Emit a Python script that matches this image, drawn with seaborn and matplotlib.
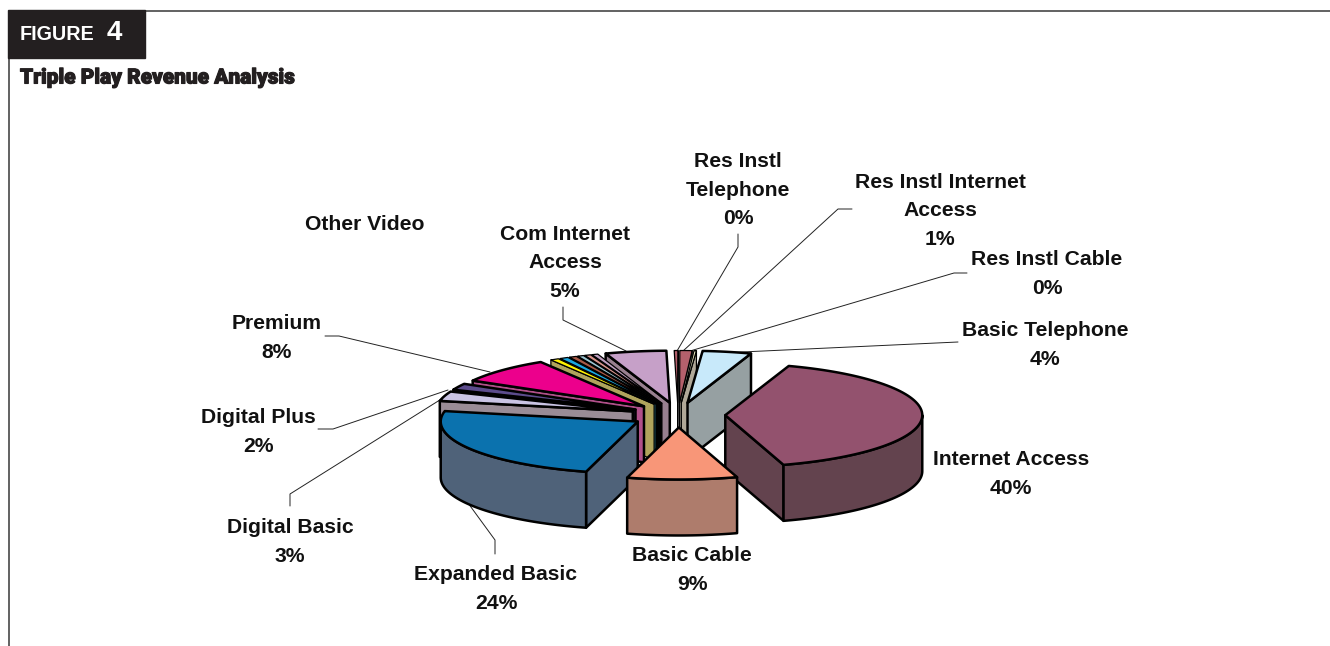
import numpy as np
import matplotlib
matplotlib.use("Agg")
import matplotlib.pyplot as plt
import matplotlib.patheffects as pe
import seaborn as sns

# Revenue share by product, clockwise from just before twelve o'clock (percent)
slice_names = [
    "Res Instl Telephone", "Res Instl Internet Access", "Res Instl Cable",
    "Basic Telephone", "Internet Access", "Basic Cable", "Expanded Basic",
    "Digital Basic", "Digital Plus", "Premium",
    "Other Video A", "Other Video B", "Other Video C",
    "Other Video D", "Other Video E", "Other Video F",
    "Com Internet Access",
]
slice_values = [0.3, 1, 0.2, 4, 40, 9, 24, 3, 2, 8,
                0.7, 0.7, 0.6, 0.5, 0.5, 0.5, 5]

top_colors = ["#B4606C", "#B4606C", "#F2EEC4", "#C8E9FA", "#93526E", "#F89678",
              "#0B72AE", "#CAC4E4", "#5C4C8C", "#EC008C", "#FFF200", "#19A7E0",
              "#A85A48", "#9CC4D0", "#D8948C", "#C0A0C0", "#C6A0C8"]
side_colors = ["#000000", "#B0A898", "#B0A898", "#96A0A2", "#63434E", "#AE7C6C",
               "#4F6279", "#9A8C96", "#201C34", "#B0508A", "#B0A45C", "#2F8296",
               "#000000", "#000000", "#000000", "#000000", "#98808F"]

# Text beside each slice; the percentage is appended from the slice value
label_text = {
    "Res Instl Telephone": "Res Instl\nTelephone",
    "Res Instl Internet Access": "Res Instl Internet\nAccess",
    "Res Instl Cable": "Res Instl Cable",
    "Basic Telephone": "Basic Telephone",
    "Internet Access": "Internet Access",
    "Basic Cable": "Basic Cable",
    "Expanded Basic": "Expanded Basic",
    "Digital Basic": "Digital Basic",
    "Digital Plus": "Digital Plus",
    "Premium": "Premium",
    "Com Internet Access": "Com Internet\nAccess",
}
label_xy = {
    "Res Instl Telephone": (738, 190),
    "Res Instl Internet Access": (940, 211),
    "Res Instl Cable": (1047, 274),
    "Basic Telephone": (1045, 345),
    "Internet Access": (1011, 474),
    "Basic Cable": (692, 570),
    "Expanded Basic": (496, 589),
    "Digital Basic": (290, 542),
    "Digital Plus": (258, 432),
    "Premium": (277, 338),
    "Com Internet Access": (565, 263),
}
leader_paths = {
    "Res Instl Telephone": [(738, 234), (738, 247), (677, 351)],
    "Res Instl Internet Access": [(852, 209), (838, 209), (683, 351)],
    "Res Instl Cable": [(967, 273), (954, 273), (690, 351)],
    "Basic Telephone": [(958, 342), (720, 353)],
    "Expanded Basic": [(495, 554), (495, 540), (468, 503)],
    "Digital Basic": [(290, 506), (290, 494), (443, 398)],
    "Digital Plus": [(318, 429), (333, 429), (448, 390)],
    "Premium": [(325, 336), (339, 336), (490, 372)],
    "Com Internet Access": [(563, 307), (563, 320), (626, 351)],
}

sns.set_theme(style="white", rc={"axes.facecolor": "white", "figure.facecolor": "white"})
plt.rcParams["font.family"] = ["Liberation Sans", "DejaVu Sans"]

fig = plt.figure(figsize=(13.3, 6.46), dpi=100)
ax = fig.add_axes([0, 0, 1, 1])
ax.set_xlim(0, 1330)
ax.set_ylim(646, 0)
ax.axis("off")

CX, CY = 678, 415
RX, RY = 197, 52
DEPTH = 56
EXPLODE = 0.24
START_ANGLE = -1.0

shares = np.array(slice_values, dtype=float)
edges = START_ANGLE + np.concatenate([[0], np.cumsum(shares)]) / shares.sum() * 360.0
top_palette = sns.color_palette(top_colors)
side_palette = sns.color_palette(side_colors)


def rim(theta, apex):
    t = np.radians(theta)
    return np.column_stack([apex[0] + RX * np.sin(t), apex[1] - RY * np.cos(t)])


def draw_slice(i):
    start, stop = edges[i], edges[i + 1]
    mid = np.radians((start + stop) / 2)
    apex = (CX + EXPLODE * RX * np.sin(mid), CY - EXPLODE * RY * np.cos(mid))
    drop = np.array([0, DEPTH])
    apex_arr = np.array(apex)
    # Hairline outlines keep the narrowest slices from closing up
    edge = dict(edgecolor="black", joinstyle="round",
                linewidth=0.9 if shares[i] <= 1 else 1.8)

    # Radial cut face that looks towards the viewer
    cut = None
    if stop <= 180:
        cut = stop
    elif start >= 180:
        cut = start
    if cut is not None:
        edge_pt = rim(np.array([cut]), apex)[0]
        ax.fill(*np.array([apex_arr, edge_pt, edge_pt + drop, apex_arr + drop]).T,
                facecolor=side_palette[i], zorder=i_order[i], **edge)

    # Outer wall along the front half of the ellipse
    lo, hi = max(start, 90), min(stop, 270)
    if hi > lo:
        arc = rim(np.linspace(lo, hi, 60), apex)
        ax.fill(*np.vstack([arc, arc[::-1] + drop]).T,
                facecolor=side_palette[i], zorder=i_order[i], **edge)

    # Top face
    arc = rim(np.linspace(start, stop, 80), apex)
    ax.fill(*np.vstack([[apex_arr], arc]).T,
            facecolor=top_palette[i], zorder=i_order[i] + 0.5, **edge)


# Paint from the back of the pie to the front
mids = (edges[:-1] + edges[1:]) / 2
ranking = np.argsort(np.minimum(mids, 360 - mids))
i_order = {int(idx): 2 + rank for rank, idx in enumerate(ranking)}
for idx in ranking:
    draw_slice(int(idx))

# Labels and leader lines
for name, value in zip(slice_names, slice_values):
    if name in label_text:
        ax.text(*label_xy[name], f"{label_text[name]}\n{round(value)}%",
                ha="center", va="center", ma="center", fontsize=15.2,
                fontweight="bold", color="#111111", linespacing=1.62, zorder=40)
    if name in leader_paths:
        xs, ys = zip(*leader_paths[name])
        ax.plot(xs, ys, color="#222222", lw=0.7, zorder=1)

ax.text(365, 224, "Other Video", ha="center", va="center", fontsize=15.2,
        fontweight="bold", color="#111111", zorder=40)

# Header frame and title block
ax.plot([145, 1330], [11, 11], color="#555555", lw=1.3, zorder=1)
ax.plot([9, 9], [58, 646], color="#555555", lw=1.3, zorder=1)
ax.fill([8, 145, 145, 8], [10, 10, 58, 58], color="#231F20", zorder=30)
ax.text(20, 35, "FIGURE", color="white", fontsize=14.2, fontweight="bold",
        va="center", ha="left", zorder=31)
ax.text(107, 33, "4", color="white", fontsize=20, fontweight="bold",
        va="center", ha="left", zorder=31)
title = ax.text(20, 78, "Triple Play Revenue Analysis", color="#231F20",
                fontsize=15.0, fontweight="black", va="center", ha="left",
                family=["Roboto", "Liberation Sans"], zorder=31)
title.set_path_effects([pe.withStroke(linewidth=0.8, foreground="#231F20")])

fig.savefig("out.png", dpi=100)
